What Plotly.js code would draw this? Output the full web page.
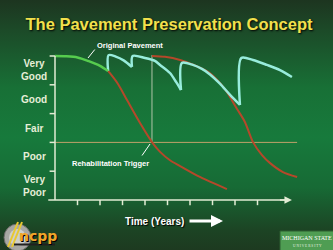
<!DOCTYPE html>
<html><head><meta charset="utf-8">
<script src="https://cdn.plot.ly/plotly-3.0.1.min.js"></script>
<style>
html,body{margin:0;padding:0;width:333px;height:250px;overflow:hidden;}
#chart{width:333px;height:250px;background:linear-gradient(180deg,#1d3520 0%,#1c4a28 12%,#187036 35%,#177a3c 55%,#176a35 75%,#1c4424 92%,#1d3a20 100%);}
</style></head>
<body><div id="chart"></div>
<script>
// ---- data ----
const timeTicks = [1,2,3,4,5,6,7,8,9];
const condTicks = [1,2,3,4,5];
const condLabelPos = [0.5,1.5,2.5,3.5,4.5];
const condLabels = ['Very<br>Poor','Poor','Fair','Good','Very<br>Good'];

const origT = [0,0.5,1.0,1.5,2.0,2.36];
const origC = [5.0,4.99,4.95,4.82,4.66,4.48];

const doNothingT = [2.36,2.8,3.2,3.78,4.31,4.67,5.11,5.56,6.44,7.64];
const doNothingC = [4.48,4.03,3.47,2.67,2.01,1.67,1.38,1.18,0.80,0.38];

const laterT = [4.31,4.89,5.56,6.22,6.89,7.56,8.09,8.44,8.8,9.2,9.56,10.13,10.76];
const laterC = [5.0,4.97,4.86,4.67,4.40,3.84,3.16,2.71,2.01,1.56,1.28,0.97,0.80];

const seg1T = [2.36,2.38,2.7,3.05,3.42];
const seg1C = [4.48,5.03,4.98,4.85,4.62];
const seg2T = [3.42,3.45,4.0,4.44,4.67,5.11,5.38,5.6];
const seg2C = [4.62,5.0,4.93,4.83,4.69,4.41,4.10,3.82];
const seg3T = [5.6,5.64,6.13,6.53,6.89,7.33,7.78,8.22];
const seg3C = [3.82,4.76,4.69,4.55,4.36,4.04,3.65,3.30];
const seg4T = [8.22,8.28,8.8,9.42,10.0,10.53];
const seg4C = [3.30,4.93,4.86,4.69,4.51,4.27];

const triggerLevel = 2;
const triggerTime = 4.31;
const axisEnd = 10.53;
const lineEnd = 10.76;

// ---- helpers (layout only) ----
const W = 333, H = 250;
const px = v => v / W;
const py = v => 1 - v / H;
const xr = [(0-55)/22.5, (W-55)/22.5];
const yr = [(200-H)/28.8, 200/28.8];

const axisCol = '#e2ecd4';
const red = '#b5482a', cyan = '#98ecdc', green = '#56cc4e';

function line(x, y, color, w, shape){
  return {x:x, y:y, type:'scatter', mode:'lines', hoverinfo:'skip', showlegend:false,
    line:{color:color, width:w, shape:shape||'spline', smoothing:0.8}};
}

const traces = [
  line([0, lineEnd],[triggerLevel,triggerLevel],'#c0a06a',1,'linear'),
  line([triggerTime,triggerTime],[triggerLevel,5.03],'#b0c4a8',1,'linear'),
  line(doNothingT, doNothingC, red, 2),
  line(laterT, laterC, red, 2),
  line(seg1T, seg1C, cyan, 2.5),
  line(seg2T, seg2C, cyan, 2.5),
  line(seg3T, seg3C, cyan, 2.5),
  line(seg4T, seg4C, cyan, 2.5),
  line(origT, origC, green, 2.5),
];

const shapes = [];
shapes.push({type:'line', xref:'x', yref:'y', x0:0, x1:0, y0:0, y1:5, line:{color:axisCol, width:1.5}});
condTicks.forEach(c => shapes.push({type:'line', xref:'x', yref:'y', x0:-0.24, x1:0, y0:c, y1:c, line:{color:axisCol, width:1.5}}));
shapes.push({type:'line', xref:'x', yref:'y', x0:-0.3, x1:axisEnd-0.2, y0:0, y1:0, line:{color:axisCol, width:1.5}});
timeTicks.forEach(t => shapes.push({type:'line', xref:'x', yref:'y', x0:t, x1:t, y0:0, y1:-0.18, line:{color:axisCol, width:1.5}}));
// ncpp logo
shapes.push({type:'circle', xref:'paper', yref:'paper', x0:px(4), x1:px(31), y0:py(251), y1:py(224), fillcolor:'#a8a8a4', line:{color:'#6a6a66', width:1}});
shapes.push({type:'circle', xref:'paper', yref:'paper', x0:px(9), x1:px(26), y0:py(246), y1:py(229), fillcolor:'#cfcfca', line:{width:0}});
shapes.push({type:'line', xref:'paper', yref:'paper', x0:px(8), x1:px(18), y0:py(247), y1:py(222), line:{color:'#e8c830', width:2}});
shapes.push({type:'line', xref:'paper', yref:'paper', x0:px(12), x1:px(22), y0:py(247), y1:py(222), line:{color:'#e8c830', width:2}});
shapes.push({type:'line', xref:'paper', yref:'paper', x0:px(14), x1:px(55), y0:py(244.5), y1:py(244.5), line:{color:'#202020', width:2}});
// MSU box
shapes.push({type:'rect', xref:'paper', yref:'paper', x0:px(280), x1:px(334), y0:py(251), y1:py(231), fillcolor:'#4f9d53', line:{color:'#2d5e30', width:1}});

const annotations = [];
condLabels.forEach((lab,i) => annotations.push({xref:'x', yref:'y', x:-0.93, y:condLabelPos[i], text:lab, showarrow:false,
  font:{family:'Liberation Sans, Arial', size:10, color:'#e6eed8', weight:'bold'}, xanchor:'center', yanchor:'middle'}));
annotations.push({xref:'paper', yref:'paper', x:px(130), y:py(46), text:'Original Pavement', showarrow:false,
  font:{family:'Liberation Sans, Arial', size:7.5, color:'#ffffff', weight:'bold'}, xanchor:'center', yanchor:'middle'});
annotations.push({xref:'paper', yref:'paper', x:px(110), y:py(163), text:'Rehabilitation Trigger', showarrow:false,
  font:{family:'Liberation Sans, Arial', size:7.5, color:'#ffffff', weight:'bold'}, xanchor:'center', yanchor:'middle'});
annotations.push({xref:'paper', yref:'paper', x:px(88), y:py(58), ax:px(96), ay:py(48), axref:'paper', ayref:'paper', text:'', showarrow:true, arrowhead:0, arrowwidth:1, arrowcolor:'#ffffff'});
annotations.push({xref:'paper', yref:'paper', x:px(150), y:py(144), ax:px(141), ay:py(157), axref:'paper', ayref:'paper', text:'', showarrow:true, arrowhead:0, arrowwidth:1, arrowcolor:'#ffffff'});
annotations.push({xref:'x', yref:'y', x:axisEnd, y:0, ax:axisEnd-0.6, ay:0, axref:'x', ayref:'y', text:'', showarrow:true, arrowhead:2, arrowsize:1, arrowwidth:1.5, arrowcolor:axisCol});
annotations.push({xref:'paper', yref:'paper', x:px(154), y:py(221), text:'Time (Years)', showarrow:false,
  font:{family:'Liberation Sans, Arial', size:10, color:'#ffffff', weight:'bold', shadow:'1px 1px 1px #000'}, xanchor:'center', yanchor:'middle'});
annotations.push({xref:'paper', yref:'paper', x:px(223), y:py(221), ax:px(188), ay:py(221), axref:'paper', ayref:'paper', text:'', showarrow:true, arrowhead:2, arrowsize:0.8, arrowwidth:3, arrowcolor:'#ffffff'});
annotations.push({xref:'paper', yref:'paper', x:px(38), y:py(236), text:'ncpp', showarrow:false,
  font:{family:'DejaVu Sans, Arial', size:14, color:'#f0a52a', weight:'bold', shadow:'1px 1px 0px #000'}, xanchor:'center', yanchor:'middle'});
annotations.push({xref:'paper', yref:'paper', x:px(307), y:py(238), text:'MICHIGAN STATE', showarrow:false,
  font:{family:'Liberation Serif, serif', size:6, color:'#ffffff'}, xanchor:'center', yanchor:'middle'});
annotations.push({xref:'paper', yref:'paper', x:px(307), y:py(245.5), text:'U N I V E R S I T Y', showarrow:false,
  font:{family:'Liberation Serif, serif', size:3.5, color:'#e8f0e0'}, xanchor:'center', yanchor:'middle'});

const layout = {
  width:W, height:H, margin:{l:0,r:0,t:0,b:0},
  paper_bgcolor:'rgba(0,0,0,0)', plot_bgcolor:'rgba(0,0,0,0)',
  title:{text:'The Pavement Preservation Concept', x:px(169), y:py(24), xref:'paper', yref:'paper', xanchor:'center', yanchor:'middle',
    font:{family:'Liberation Sans, Arial', size:16.5, color:'#f2e04c', weight:'bold', shadow:'1px 1px 2px #000'}},
  xaxis:{range:xr, visible:false, fixedrange:true},
  yaxis:{range:yr, visible:false, fixedrange:true},
  shapes:shapes, annotations:annotations, showlegend:false
};
Plotly.newPlot('chart', traces, layout, {staticPlot:true, displayModeBar:false});
</script></body></html>
